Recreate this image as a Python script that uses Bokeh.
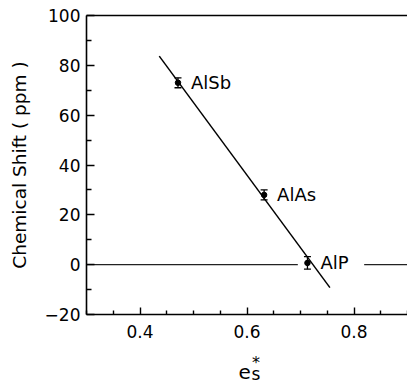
from bokeh.plotting import figure
from bokeh.layouts import column
from bokeh.models import (Range1d, FixedTicker, LinearAxis, ColumnDataSource,
                          Whisker, TeeHead)
from bokeh.core.properties import value
from bokeh.embed import file_html
from bokeh.resources import INLINE

# ---- data ----
compounds = ["AlSb", "AlAs", "AlP"]
es_star = [0.471, 0.632, 0.713]
shift_ppm = [73.0, 28.0, 0.7]
shift_err = [2.0, 2.0, 2.5]

fit_x = [0.436, 0.755]
fit_y = [83.7, -9.2]

zero_x_left = [0.30, 0.695]
zero_x_right = [0.819, 0.90]

x_major = [0.4, 0.6, 0.8]
x_minor = [0.30, 0.35, 0.45, 0.50, 0.55, 0.65, 0.70, 0.75, 0.85, 0.90]
y_major = [-20, 0, 20, 40, 60, 80, 100]
y_minor = [-10, 10, 30, 50, 70, 90]

y_title = "Chemical Shift ( ppm )"
x_title_parts = ["e", "s", "*"]   # e, subscript s, superscript *

FONT = "DejaVu Sans"

xr = Range1d(0.3, 0.9)

p = figure(width=407, height=352, output_backend="svg", toolbar_location=None,
           x_range=xr, y_range=Range1d(-20, 100),
           x_axis_location=None, y_axis_location=None)
p.min_border_left = 86
p.min_border_right = 0
p.min_border_top = 15
p.min_border_bottom = 38
p.outline_line_color = None
p.grid.visible = False
p.background_fill_color = "white"
p.border_fill_color = "white"

# left axis
ya = LinearAxis(ticker=FixedTicker(ticks=y_major, minor_ticks=y_minor))
ya.axis_label = y_title
ya.axis_label_text_font = FONT
ya.axis_label_text_font_size = "18.5px"
ya.axis_label_text_font_style = "normal"
ya.axis_label_text_color = "black"
ya.axis_label_standoff = 12
ya.major_label_text_font = FONT
ya.major_label_text_font_size = "17px"
ya.major_label_text_color = "black"
ya.major_label_standoff = 6
ya.major_tick_in = 8
ya.major_tick_out = 0
ya.minor_tick_in = 5
ya.minor_tick_out = 0
ya.axis_line_width = 1.6
ya.major_tick_line_width = 1.4
ya.minor_tick_line_width = 1.4
ya.axis_line_color = "black"
ya.major_tick_line_color = "black"
ya.minor_tick_line_color = "black"
p.add_layout(ya, "left")

# bottom axis
xa = LinearAxis(ticker=FixedTicker(ticks=x_major, minor_ticks=x_minor))
xa.major_label_text_font = FONT
xa.major_label_text_font_size = "17px"
xa.major_label_text_color = "black"
xa.major_label_standoff = 10
xa.major_tick_in = 7
xa.major_tick_out = 0
xa.minor_tick_in = 4
xa.minor_tick_out = 0
xa.axis_line_width = 1.6
xa.major_tick_line_width = 1.4
xa.minor_tick_line_width = 1.4
xa.axis_line_color = "black"
xa.major_tick_line_color = "black"
xa.minor_tick_line_color = "black"
p.add_layout(xa, "below")

# top frame line
ta = LinearAxis(ticker=FixedTicker(ticks=[]))
ta.major_tick_in = 0
ta.major_tick_out = 0
ta.minor_tick_in = 0
ta.minor_tick_out = 0
ta.major_label_text_font_size = "0px"
ta.axis_line_width = 1.6
ta.axis_line_color = "black"
p.add_layout(ta, "above")

# zero line with gap
p.line(zero_x_left, [0, 0], line_color="#222222", line_width=1.1)
p.line(zero_x_right, [0, 0], line_color="#222222", line_width=1.1)

# fit line
p.line(fit_x, fit_y, line_color="black", line_width=1.5)

# points with error bars
src = ColumnDataSource(dict(
    x=es_star, y=shift_ppm, name=compounds,
    lo=[v - e for v, e in zip(shift_ppm, shift_err)],
    hi=[v + e for v, e in zip(shift_ppm, shift_err)],
))
w = Whisker(source=src, base="x", lower="lo", upper="hi",
            line_color="black", line_width=1.3,
            upper_head=TeeHead(size=7, line_color="black", line_width=1.3),
            lower_head=TeeHead(size=7, line_color="black", line_width=1.3))
p.add_layout(w)
p.scatter("x", "y", source=src, size=5.5, color="black")

p.text("x", "y", text="name", source=src, x_offset=13, y_offset=0,
       text_font=value(FONT), text_font_size="18px", text_color="black",
       text_baseline="middle", text_align="left")

# ---- x-axis title strip (e_s^*) sharing the x scale of the main frame ----
q = figure(width=407, height=31, output_backend="svg", toolbar_location=None,
           x_range=xr, y_range=Range1d(0, 31), title=None,
           x_axis_location=None, y_axis_location=None)
q.min_border_left = 86
q.min_border_right = 0
q.min_border_top = 0
q.min_border_bottom = 0
q.outline_line_color = None
q.grid.visible = False
q.background_fill_color = "white"
q.border_fill_color = "white"

xt = 0.584  # centre region of the x title in axis units
q.text(x=[xt], y=[12], text=[x_title_parts[0]], text_font=value(FONT),
       text_font_size="20px", text_color="black",
       text_align="left", text_baseline="alphabetic")
q.text(x=[xt], y=[10], text=[x_title_parts[1]], x_offset=13, text_font=value(FONT),
       text_font_size="17px", text_color="black",
       text_align="left", text_baseline="alphabetic")
q.text(x=[xt], y=[21.5], text=[x_title_parts[2]], x_offset=13.5, text_font=value(FONT),
       text_font_size="16px", text_color="black",
       text_align="left", text_baseline="alphabetic")

layout = column(p, q, spacing=0)
open("out.html", "w").write(file_html(layout, INLINE))
